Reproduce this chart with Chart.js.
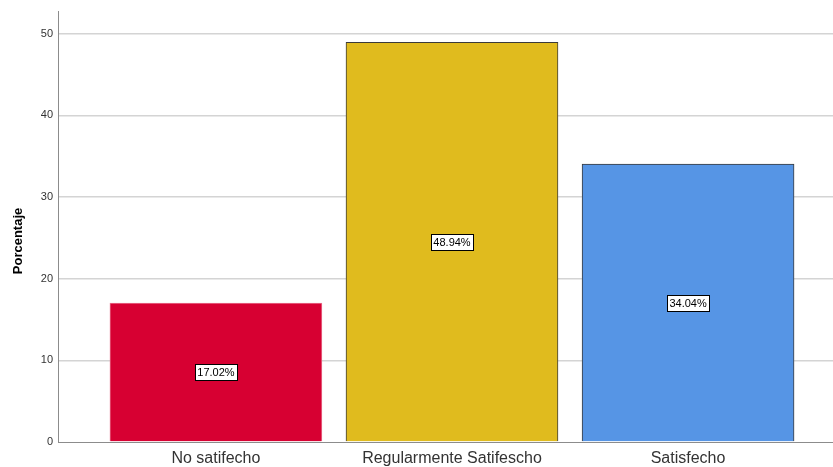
<!DOCTYPE html>
<html>
<head>
<meta charset="utf-8">
<script src="https://cdn.jsdelivr.net/npm/chart.js@4"></script>
<style>
  html, body { margin: 0; padding: 0; background: #ffffff; }
  #wrap { width: 833px; height: 467px; }
</style>
</head>
<body>
<div id="wrap"><canvas id="c" width="833" height="467"></canvas></div>
<script>
// Satisfaction levels and their share of respondents (%)
const categories = ['No satifecho', 'Regularmente Satifescho', 'Satisfecho'];
const percentages = [17.02, 48.94, 34.04];
const yTicks = [0, 10, 20, 30, 40, 50];
const yTitle = 'Porcentaje';

const fillColors = ['#D70032', '#E0BB1E', '#5695E5'];
const edgeColors = ['#E8708C', '#3A3A3A', '#3A3A3A'];

// Value boxes centred half-way up each bar
const valueBoxes = {
  id: 'valueBoxes',
  afterDatasetsDraw(chart) {
    const ctx = chart.ctx;
    const meta = chart.getDatasetMeta(0);
    ctx.save();
    ctx.font = '11px "Liberation Sans", Arial, sans-serif';
    ctx.textAlign = 'center';
    ctx.textBaseline = 'middle';
    meta.data.forEach((bar, i) => {
      const text = percentages[i].toFixed(2) + '%';
      const cx = bar.x;
      const cy = (bar.y + bar.base) / 2;
      const w = Math.round(ctx.measureText(text).width + 5);
      const h = 16;
      const x0 = Math.round(cx - w / 2) + 0.5;
      const y0 = Math.round(cy - h / 2) + 0.5;
      ctx.fillStyle = '#ffffff';
      ctx.fillRect(x0, y0, w, h);
      ctx.strokeStyle = '#000000';
      ctx.lineWidth = 1;
      ctx.strokeRect(x0, y0, w, h);
      ctx.fillStyle = '#000000';
      ctx.fillText(text, cx, cy + 1);
    });
    ctx.restore();
  }
};

// Rotated y-axis title, set a little below the plot's middle
const yAxisTitle = {
  id: 'yAxisTitle',
  afterDraw(chart) {
    const ctx = chart.ctx;
    ctx.save();
    ctx.translate(18, 241);
    ctx.rotate(-Math.PI / 2);
    ctx.font = 'bold 13px "Liberation Sans", Arial, sans-serif';
    ctx.fillStyle = '#000000';
    ctx.textAlign = 'center';
    ctx.textBaseline = 'middle';
    ctx.fillText(yTitle, 0, 0);
    ctx.restore();
  }
};

new Chart(document.getElementById('c'), {
  type: 'bar',
  data: {
    datasets: [{
      data: percentages.map((v, i) => ({ x: i, y: v })),
      backgroundColor: fillColors,
      borderColor: edgeColors,
      borderWidth: 1,
      borderSkipped: 'bottom',
      barThickness: 212
    }]
  },
  options: {
    responsive: false,
    animation: false,
    layout: { padding: { top: 9, right: 0, left: 0, bottom: 0 } },
    plugins: { legend: { display: false }, tooltip: { enabled: false } },
    scales: {
      x: {
        type: 'linear',
        offset: false,
        bounds: 'data',
        min: -0.669,
        max: 2.614,
        afterBuildTicks(scale) { scale.ticks = categories.map((_, i) => ({ value: i })); },
        afterFit(scale) { scale.height = 25; },
        ticks: {
          callback: (v) => categories[v],
          color: '#333333',
          font: { family: '"Liberation Sans", Arial, sans-serif', size: 16 },
          padding: 7,
          maxRotation: 0,
          autoSkip: false
        },
        grid: { display: false, drawTicks: false, offset: false },
        border: { display: true, color: '#8c8c8c', width: 1 }
      },
      y: {
        min: 0,
        max: 52.7,
        bounds: 'data',
        afterBuildTicks(scale) { scale.ticks = yTicks.map(v => ({ value: v })); },
        afterFit(scale) { scale.width = 58; },
        ticks: {
          color: '#333333',
          font: { family: '"Liberation Sans", Arial, sans-serif', size: 11 },
          padding: 5
        },
        grid: {
          color: (c) => c.tick && c.tick.value === 0 ? 'rgba(0,0,0,0)' : '#d4d4d4',
          lineWidth: 1.5,
          drawTicks: false
        },
        border: { display: true, color: '#8c8c8c', width: 1 },
        title: { display: false }
      }
    }
  },
  plugins: [valueBoxes, yAxisTitle]
});
</script>
</body>
</html>
